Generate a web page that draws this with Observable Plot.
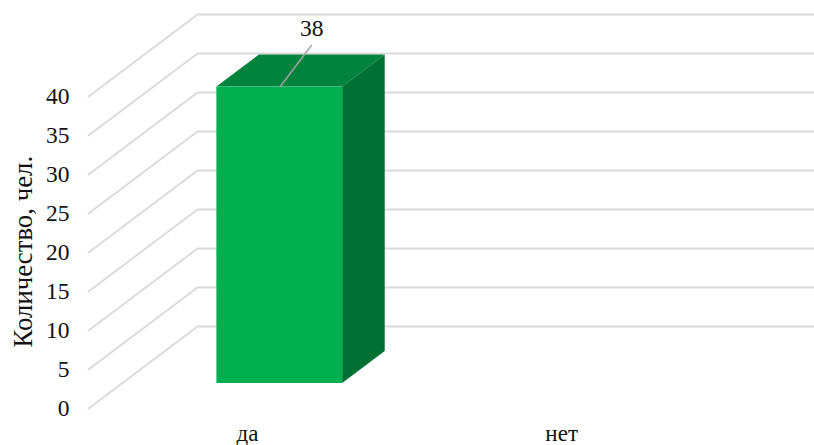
<!DOCTYPE html>
<html>
<head>
<meta charset="utf-8">
<script src="https://cdn.jsdelivr.net/npm/d3@7"></script>
<script src="https://cdn.jsdelivr.net/npm/@observablehq/plot@0.6"></script>
<style>html,body{margin:0;padding:0;background:#fff;overflow:hidden}svg{display:block}</style>
</head>
<body>
<div id="chart"></div>
<script>
const categories = ["да", "нет"];
const counts = [38, 0];
const yTicks = [0, 5, 10, 15, 20, 25, 30, 35, 40];
const yTitle = "Количество, чел.";
const font = "Liberation Serif";

// Oblique 3D projection, in scale units
const depthX = 0.345, depthY = 10.51;
const barWidth = 0.398, zFront = 0.305, zBack = 0.695;
const xMax = 2.297;
const yMax = 40 + depthY;

const project = (x, v, z) => ({x: x + z * depthX, y: v + z * depthY});

const grid = yTicks.flatMap((v) => [
  {v, ...project(0, v, 0)},
  {v, ...project(0, v, 1)},
  {v, x: xMax, y: v + depthY}
]);

const bars = categories.map((c, i) => ({c, i, v: counts[i], l: i + 0.5 - barWidth / 2, r: i + 0.5 + barWidth / 2})).filter((b) => b.v > 0);

const front = bars.map((b) => ({
  x1: project(b.l, 0, zFront).x, x2: project(b.r, 0, zFront).x,
  y1: project(b.l, 0, zFront).y, y2: project(b.l, b.v, zFront).y
}));
const top_ = bars.flatMap((b) => [
  {x1: project(b.l, b.v, zFront).x, x2: project(b.r, b.v, zFront).x, y: project(b.l, b.v, zFront).y},
  {x1: project(b.l, b.v, zBack).x, x2: project(b.r, b.v, zBack).x, y: project(b.l, b.v, zBack).y}
]);
const side = bars.flatMap((b) => [
  {x: project(b.r, 0, zFront).x, y1: project(b.r, 0, zFront).y, y2: project(b.r, b.v, zFront).y},
  {x: project(b.r, 0, zBack).x, y1: project(b.r, 0, zBack).y, y2: project(b.r, b.v, zBack).y}
]);
const leaders = bars.map((b) => {
  const p = project(b.i + 0.5, b.v, zFront);
  return {x1: p.x, y1: p.y, x2: p.x + 0.101, y2: p.y + 5.4, label: String(b.v)};
});
const titleRows = [{label: yTitle, y: 20.1, x: -0.207}];

const chart = Plot.plot({
  width: 814,
  height: 445,
  marginLeft: 88,
  marginRight: 0,
  marginTop: 14,
  marginBottom: 37,
  style: {background: "#fff", overflow: "visible"},
  x: {domain: [0, xMax], axis: null},
  y: {domain: [0, yMax], axis: null},
  marks: [
    Plot.line(grid, {x: "x", y: "y", z: "v", stroke: "#d9d9d9", strokeWidth: 1.8}),
    Plot.areaX(top_, {y: "y", x1: "x1", x2: "x2", fill: "#00843d"}),
    Plot.areaY(side, {x: "x", y1: "y1", y2: "y2", fill: "#007033"}),
    Plot.rect(front, {x1: "x1", x2: "x2", y1: "y1", y2: "y2", fill: "#00b050"}),
    Plot.link(leaders, {x1: "x1", y1: "y1", x2: "x2", y2: "y2", stroke: "#a6a6a6", strokeWidth: 1.5}),
    Plot.text(leaders, {x: "x2", y: "y2", text: "label", dy: -16, fontFamily: font, fontSize: 23.5, fill: "#111"}),
    Plot.axisY({ticks: yTicks, tickSize: 0, tickPadding: 19, label: null, fontFamily: font, fontSize: 23.5, color: "#111"}),
    Plot.axisX({ticks: [0.503, 1.497], tickFormat: (d) => categories[Math.floor(d)], tickSize: 0, tickPadding: 16, label: null, fontFamily: font, fontSize: 23, color: "#111"}),
    Plot.text(titleRows, {x: "x", y: "y", rotate: -90, text: "label", fontFamily: font, fontSize: 26.8, fill: "#111"})
  ]
});
document.getElementById("chart").append(chart);
</script>
</body>
</html>
